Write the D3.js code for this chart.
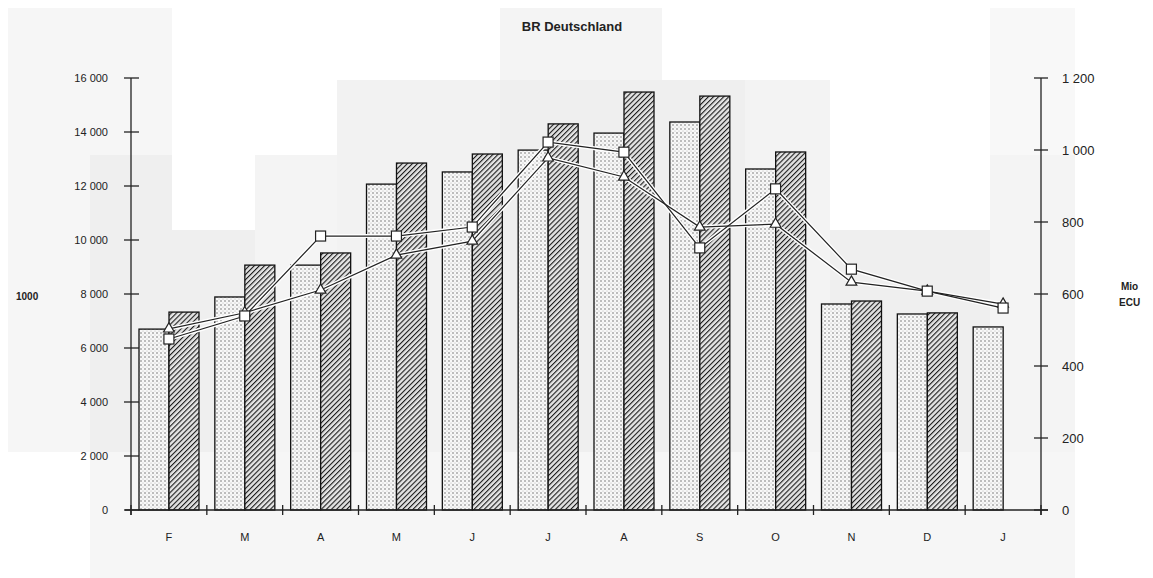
<!DOCTYPE html>
<html><head><meta charset="utf-8">
<script src="https://cdn.jsdelivr.net/npm/d3@7/dist/d3.min.js"></script>
<style>body{margin:0;background:#fff}svg{display:block;font-family:"Liberation Sans",Arial,sans-serif}</style>
</head><body><svg id="c" width="1153" height="578"></svg>
<script>
const months = ["F","M","A","M","J","J","A","S","O","N","D","J"];
const barsDotted = [6700,7890,9070,12070,12520,13330,13960,14370,12630,7630,7260,6780];
const barsHatched = [7330,9070,9520,12850,13185,14300,15480,15330,13260,7740,7300,null];
const lineSquares = [475,539,761,761,786,1022,994,728,892,669,608,561];
const lineTriangles = [503,548,611,708,747,978,925,786,794,633,608,572];
const leftTicks = [0,2000,4000,6000,8000,10000,12000,14000,16000];
const rightTicks = [0,200,400,600,800,1000,1200];

const svg = d3.select("#c");
const fmt = v => v >= 1000 ? d3.format(",")(v).replace(",", " ") : String(v);

// background (scan tone patches)
const bgPatches = [
  [0,0,1153,578,"#fff"],
  [8,8,164,444,"#f6f6f6"],
  [90,155,82,297,"#efefef"],
  [90,452,985,126,"#f6f6f6"],
  [172,230,83,222,"#efefef"],
  [255,155,82,297,"#f4f4f4"],
  [337,80,163,372,"#f2f2f2"],
  [500,8,162,72,"#f4f4f4"],
  [500,80,245,372,"#efefef"],
  [745,80,85,372,"#f3f3f3"],
  [830,230,160,222,"#efefef"],
  [990,155,85,297,"#f4f4f4"],
  [990,8,85,147,"#f8f8f8"]
];
svg.append("g").selectAll("rect").data(bgPatches).join("rect")
  .attr("x",d=>d[0]).attr("y",d=>d[1]).attr("width",d=>d[2]).attr("height",d=>d[3]).attr("fill",d=>d[4]);

const defs = svg.append("defs");
const pd = defs.append("pattern").attr("id","dots").attr("patternUnits","userSpaceOnUse").attr("width",4).attr("height",4);
pd.append("rect").attr("width",4).attr("height",4).attr("fill","#f8f8f8");
pd.append("circle").attr("cx",1).attr("cy",1).attr("r",0.75).attr("fill","#666");
pd.append("circle").attr("cx",3).attr("cy",3).attr("r",0.5).attr("fill","#aaa");
const ph = defs.append("pattern").attr("id","hatch").attr("patternUnits","userSpaceOnUse").attr("width",3.6).attr("height",3.6).attr("patternTransform","rotate(45)");
ph.append("rect").attr("width",3.6).attr("height",3.6).attr("fill","#e4e4e4");
ph.append("line").attr("x1",0).attr("y1",0).attr("x2",0).attr("y2",3.6).attr("stroke","#1a1a1a").attr("stroke-width",2.2);

const x0 = 131, x1 = 1041, yB = 510, yT = 78;
const x = d3.scaleBand().domain(d3.range(months.length)).range([x0,x1]).paddingInner(0).paddingOuter(0);
const yL = d3.scaleLinear().domain([0,16000]).range([yB,yT]);
const yR = d3.scaleLinear().domain([0,1200]).range([yB,yT]);
const bw = 30, pad = 8;

const bars = svg.append("g");
bars.selectAll(".bd").data(barsDotted).join("rect")
  .attr("x",(d,i)=>x(i)+pad).attr("width",bw)
  .attr("y",d=>yL(d)).attr("height",d=>yB-yL(d))
  .attr("fill","url(#dots)").attr("stroke","#111").attr("stroke-width",1.3);
bars.selectAll(".bh").data(barsHatched.map((v,i)=>({v,i})).filter(d=>d.v!=null)).join("rect")
  .attr("x",d=>x(d.i)+pad+bw).attr("width",bw)
  .attr("y",d=>yL(d.v)).attr("height",d=>yB-yL(d.v))
  .attr("fill","url(#hatch)").attr("stroke","#111").attr("stroke-width",1.3);

// axes
const ax = svg.append("g").attr("stroke","#222").attr("stroke-width",1.3);
ax.append("line").attr("x1",x0).attr("x2",x0).attr("y1",yT).attr("y2",yB+5);
ax.append("line").attr("x1",x1).attr("x2",x1).attr("y1",yT).attr("y2",yB+5);
ax.append("line").attr("x1",x0-6).attr("x2",x1+7).attr("y1",yB).attr("y2",yB);
ax.selectAll(".lt").data(leftTicks).join("line").attr("x1",x0-7).attr("x2",x0+8).attr("y1",d=>yL(d)).attr("y2",d=>yL(d));
ax.selectAll(".rt").data(rightTicks).join("line").attr("x1",x1-7).attr("x2",x1+7).attr("y1",d=>yR(d)).attr("y2",d=>yR(d));
ax.selectAll(".xt").data(d3.range(months.length+1)).join("line")
  .attr("x1",i=>x0+i*x.bandwidth()).attr("x2",i=>x0+i*x.bandwidth()).attr("y1",yB-5).attr("y2",yB+5);

const tx = svg.append("g").attr("fill","#222").attr("font-size",11);
tx.selectAll(".ll").data(leftTicks).join("text").attr("x",108).attr("y",d=>yL(d)+4).attr("text-anchor","end").text(fmt);
tx.selectAll(".rl").data(rightTicks).join("text").attr("x",1062).attr("y",d=>yR(d)+5).attr("font-size",13).text(fmt);
tx.selectAll(".xl").data(months).join("text").attr("x",(d,i)=>x(i)+x.bandwidth()/2).attr("y",541).attr("text-anchor","middle").text(d=>d);
svg.append("text").attr("x",572).attr("y",31).attr("text-anchor","middle").attr("font-size",13).attr("font-weight","bold").attr("fill","#222").text("BR Deutschland");
svg.append("text").attr("x",16).attr("y",300).attr("font-size",10).attr("font-weight","bold").attr("fill","#222").text("1000");
svg.append("text").attr("x",1121).attr("y",290).attr("font-size",10).attr("font-weight","bold").attr("fill","#222").text("Mio");
svg.append("text").attr("x",1119).attr("y",306).attr("font-size",10).attr("font-weight","bold").attr("fill","#222").text("ECU");

// lines
const cx = i => x(i)+x.bandwidth()/2;
const line = d3.line().x((d,i)=>cx(i)).y(d=>yR(d));
const lg = svg.append("g").attr("fill","none");
[lineTriangles,lineSquares].forEach(s=>{
  lg.append("path").attr("d",line(s)).attr("stroke","#fff").attr("stroke-width",4);
});
[lineTriangles,lineSquares].forEach(s=>{
  lg.append("path").attr("d",line(s)).attr("stroke","#222").attr("stroke-width",1.2);
});
svg.append("g").selectAll("path").data(lineTriangles).join("path")
  .attr("d",d3.symbol(d3.symbolTriangle,50))
  .attr("transform",(d,i)=>`translate(${cx(i)},${yR(d)})`)
  .attr("fill","#fff").attr("stroke","#222").attr("stroke-width",1.2);
svg.append("g").selectAll("rect").data(lineSquares).join("rect")
  .attr("x",(d,i)=>cx(i)-5).attr("y",d=>yR(d)-5).attr("width",10).attr("height",10)
  .attr("fill","#fff").attr("stroke","#222").attr("stroke-width",1.2);
</script></body></html>
